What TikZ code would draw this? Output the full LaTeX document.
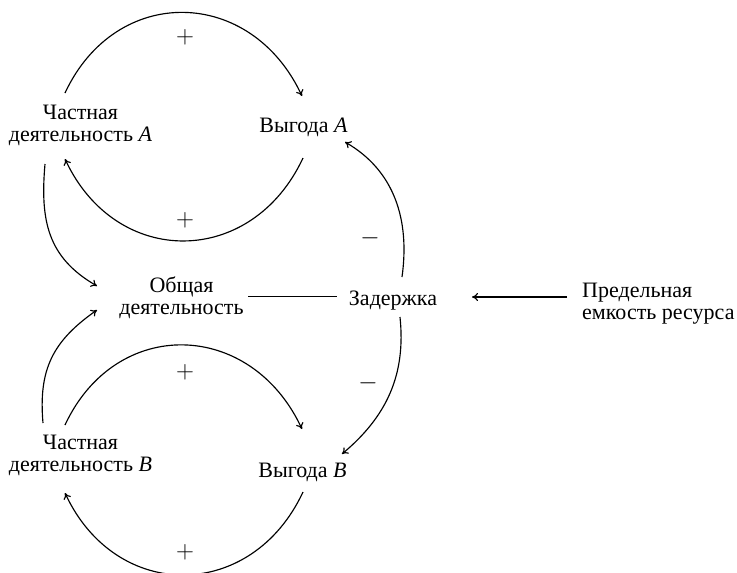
\documentclass[tikz,border=0pt]{standalone}
\usepackage{fontspec}
\setmainfont{Liberation Serif}
\usetikzlibrary{arrows.meta}
\begin{document}
\begin{tikzpicture}[x=1pt,y=1pt,
  lbl/.style={inner sep=0pt, align=center, font=\fontsize{22}{22}\selectfont},
  lblleft/.style={inner sep=0pt, align=left, font=\fontsize{22}{22}\selectfont},
  sgn/.style={inner sep=0pt, font=\fontsize{25}{25}\selectfont},
  msgn/.style={inner sep=0pt, font=\fontsize{30}{30}\selectfont},
  conn/.style={line width=1.15pt, -{To[length=6pt,width=8pt]}},
  plainline/.style={line width=1pt}]
\useasboundingbox (0,0) rectangle (737,-573);
% nodes
\node[lbl, anchor=north] (ca) at (80.5,-105) {Частная\\деятельность \textit{A}};
\node[lbl, anchor=base] (va) at (303.5,-132) {Выгода \textit{A}};
\node[lbl, anchor=north] (ob) at (181.5,-277) {Общая\\деятельность};
\node[lbl, anchor=base] (zd) at (393,-305) {Задержка};
\node[lblleft, anchor=north west] (pr) at (582,-283) {Предельная\\емкость ресурса};
\node[lbl, anchor=north] (cb) at (80.5,-435) {Частная\\деятельность \textit{B}};
\node[lbl, anchor=base] (vb) at (302.5,-477) {Выгода \textit{B}};
% signs
\node[sgn] (p1) at (185,-37) {$+$};
\node[sgn] (p2) at (185,-220) {$+$};
\node[sgn] (p3) at (185,-372) {$+$};
\node[sgn] (p4) at (185,-552) {$+$};
\node[msgn] (m1) at (370,-238) {$-$};
\node[msgn] (m2) at (368,-383) {$-$};
% loop A
\draw[conn] ([shift={(-15.5,12)}]ca.north) to[out=65,in=115,looseness=1.3] ([shift={(-1.5,36)}]va.base);
\draw[conn] ([shift={(-0.5,-26)}]va.base) to[out=-115,in=-65,looseness=1.3] ([shift={(-15.5,-54)}]ca.north);
% loop B
\draw[conn] ([shift={(-15.5,10)}]cb.north) to[out=65,in=115,looseness=1.3] ([shift={(-0.5,48)}]vb.base);
\draw[conn] ([shift={(0.5,-15)}]vb.base) to[out=-115,in=-65,looseness=1.3] ([shift={(-15.5,-58)}]cb.north);
% to common activity
\draw[conn] ([shift={(-35.5,-59)}]ca.north) to[out=-95,in=150,looseness=1.1] ([shift={(-84.5,-9)}]ob.north);
\draw[conn] ([shift={(-37.5,12)}]cb.north) to[out=95,in=-145,looseness=1.1] ([shift={(-84.5,-33)}]ob.north);
% delay
\draw[plainline] ([shift={(66.5,-19)}]ob.north) -- ([shift={(-56,9)}]zd.base);
\draw[conn] ([shift={(-15,-14)}]pr.north west) -- ([shift={(79,8)}]zd.base);
\draw[conn] ([shift={(9,28)}]zd.base) to[out=82,in=-30] ([shift={(41.5,-10)}]va.base);
\draw[conn] ([shift={(7,-12)}]zd.base) to[out=-84,in=40] ([shift={(39.5,23)}]vb.base);
\end{tikzpicture}
\end{document}
